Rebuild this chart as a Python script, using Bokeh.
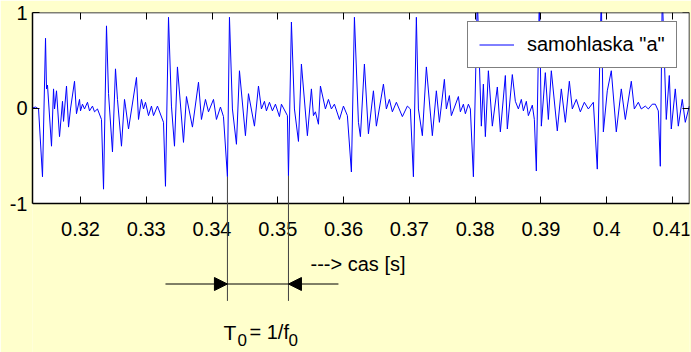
from bokeh.plotting import figure
from bokeh.models import (Range1d, LinearAxis, FixedTicker, Arrow, NormalHead,
                          Label, Legend, LegendItem, BoxAnnotation)
from bokeh.embed import file_html
from bokeh.resources import INLINE

# ---------------- data ----------------
time_s = [
    0.31270, 0.31316, 0.31362, 0.31422, 0.31468, 0.31483, 0.31498, 0.31559, 0.31590, 0.31605,
    0.31635, 0.31681, 0.31726, 0.31742, 0.31787, 0.31818, 0.31848, 0.31909, 0.31939, 0.31985,
    0.32000, 0.32030, 0.32061, 0.32106, 0.32137, 0.32182, 0.32213, 0.32258, 0.32319, 0.32350,
    0.32395, 0.32426, 0.32486, 0.32532, 0.32562, 0.32623, 0.32669, 0.32684, 0.32730, 0.32851,
    0.32882, 0.32927, 0.32958, 0.32988, 0.33034, 0.33079, 0.33110, 0.33170, 0.33262, 0.33292,
    0.33338, 0.33383, 0.33429, 0.33474, 0.33566, 0.33611, 0.33702, 0.33794, 0.33839, 0.33900,
    0.33946, 0.34022, 0.34067, 0.34128, 0.34174, 0.34234, 0.34265, 0.34310, 0.34371, 0.34417,
    0.34508, 0.34554, 0.34645, 0.34706, 0.34751, 0.34797, 0.34827, 0.34873, 0.34918, 0.34964,
    0.35025, 0.35055, 0.35146, 0.35162, 0.35207, 0.35253, 0.35314, 0.35359, 0.35450, 0.35511,
    0.35542, 0.35572, 0.35618, 0.35648, 0.35724, 0.35770, 0.35815, 0.35861, 0.35937, 0.35998,
    0.36058, 0.36119, 0.36165, 0.36226, 0.36256, 0.36317, 0.36378, 0.36454, 0.36499, 0.36606,
    0.36651, 0.36697, 0.36742, 0.36803, 0.36894, 0.36970, 0.37016, 0.37062, 0.37107, 0.37138,
    0.37198, 0.37259, 0.37350, 0.37411, 0.37457, 0.37533, 0.37563, 0.37609, 0.37639, 0.37746,
    0.37776, 0.37822, 0.37852, 0.37898, 0.37928, 0.37974, 0.38034, 0.38095, 0.38126, 0.38156,
    0.38202, 0.38262, 0.38338, 0.38384, 0.38460, 0.38490, 0.38566, 0.38612, 0.38658, 0.38703,
    0.38734, 0.38779, 0.38810, 0.38870, 0.38901, 0.38931, 0.38977, 0.39007, 0.39068, 0.39114,
    0.39159, 0.39250, 0.39311, 0.39372, 0.39433, 0.39478, 0.39539, 0.39600, 0.39661, 0.39722,
    0.39798, 0.39858, 0.39919, 0.39950, 0.40010, 0.40071, 0.40147, 0.40223, 0.40284, 0.40375,
    0.40421, 0.40482, 0.40527, 0.40588, 0.40634, 0.40694, 0.40740, 0.40786, 0.40816, 0.40846,
    0.40907, 0.40953, 0.40983, 0.41044, 0.41090, 0.41150, 0.41196, 0.41257,
]
amplitude = [
    0.00, 0.01, -0.01, -0.72, 0.73, 0.20, 0.24, -0.40, 0.20, -0.01,
    0.18, -0.30, 0.07, -0.14, 0.23, -0.20, -0.01, 0.28, -0.06, 0.09,
    -0.03, 0.04, -0.01, 0.06, -0.03, 0.02, -0.04, -0.01, -0.12, -0.85,
    0.86, 0.15, -0.46, 0.41, 0.09, -0.40, 0.09, 0.02, -0.22, 0.32,
    -0.12, 0.09, -0.01, 0.06, -0.08, 0.02, -0.08, 0.02, -0.15, -0.82,
    0.95, 0.02, -0.40, 0.43, -0.36, 0.12, -0.20, 0.27, -0.12, 0.09,
    -0.04, 0.09, -0.12, 0.01, -0.09, -0.72, 0.95, -0.01, -0.38, 0.39,
    -0.29, 0.15, -0.19, 0.23, -0.01, 0.07, -0.03, 0.06, -0.03, 0.04,
    -0.09, 0.04, -0.08, -0.71, 0.90, -0.01, -0.35, 0.46, -0.29, 0.20,
    -0.08, -0.04, -0.17, 0.23, -0.01, 0.09, -0.01, 0.04, -0.12, 0.02,
    -0.08, -0.67, 0.95, -0.15, -0.30, 0.46, -0.27, 0.18, -0.19, 0.25,
    -0.01, 0.09, -0.04, 0.06, -0.09, 0.02, -0.01, -0.72, 0.95, -0.01,
    -0.29, 0.43, -0.29, 0.18, -0.15, 0.30, -0.01, 0.13, -0.08, 0.12,
    -0.04, 0.04, -0.06, 0.04, -0.01, -0.72, 1.15, -0.19, 0.25, -0.30,
    0.39, -0.19, 0.22, -0.25, 0.34, -0.22, 0.35, 0.07, -0.01, 0.09,
    -0.03, 0.07, -0.08, 0.03, -0.12, -0.66, 1.17, -0.19, 0.37, -0.12,
    0.39, -0.24, 0.20, -0.15, 0.28, -0.01, 0.09, -0.04, 0.06, -0.01,
    0.06, -0.64, 1.17, -0.25, 0.18, 0.39, -0.25, 0.20, -0.12, 0.28,
    -0.01, 0.06, -0.01, 0.02, -0.01, 0.04, 0.04, -0.03, -0.61, 1.20,
    -0.12, 0.34, -0.22, 0.20, -0.19, 0.09, -0.15, 0.02,
]
x_ticks = [0.32, 0.33, 0.34, 0.35, 0.36, 0.37, 0.38, 0.39, 0.40, 0.41]
x_tick_labels = ["0.32", "0.33", "0.34", "0.35", "0.36", "0.37", "0.38", "0.39", "0.4", "0.41"]
y_ticks = [-1, 0, 1]
y_tick_labels = ["-1", "0", "1"]
series_name = 'samohlaska "a"'
axis_text = "---> cas [s]"

# one pitch period, between two glottal (negative) peaks
period_start, period_end = 0.34234, 0.35162
peak_start, peak_end = -0.72, -0.71

# ---------------- styling ----------------
FONT = "Liberation Sans"
BG = "#FFFFCC"
BLUE = "#0000FF"
X0, X1 = 0.3127, 0.4126
Y_TOP, Y_BOTTOM = 1.0, -2.5602   # the frame also holds the annotation area below the chart

p = figure(width=691, height=352, output_backend="svg", toolbar_location=None,
           x_range=Range1d(X0, X1), y_range=Range1d(Y_BOTTOM, Y_TOP),
           x_axis_location=None, y_axis_location=None,
           min_border_left=32, min_border_right=2, min_border_top=12, min_border_bottom=0,
           background_fill_color=BG, border_fill_color=BG)
p.grid.visible = False
p.outline_line_color = None

# white plot panel
p.add_layout(BoxAnnotation(bottom=-1, top=1, fill_color="white", fill_alpha=1,
                           line_color=None, level="underlay"))


def axis(ticks, labels, standoff, **kw):
    ax = LinearAxis(ticker=FixedTicker(ticks=ticks), major_tick_in=7, major_tick_out=0,
                    minor_tick_line_color=None, axis_line_color="black", axis_line_width=1.5,
                    major_tick_line_color="black", major_tick_line_width=1,
                    major_label_text_font=FONT, major_label_text_color="black",
                    major_label_standoff=standoff, major_label_text_font_size="20px",
                    major_label_overrides=dict(zip(ticks, labels)), **kw)
    return ax


blank_x = [""] * len(x_ticks)
blank_y = [""] * len(y_ticks)
p.add_layout(axis(x_ticks, x_tick_labels, 18, fixed_location=-1), "below")
p.add_layout(axis(x_ticks, blank_x, 0, fixed_location=1), "above")
p.add_layout(axis(y_ticks, y_tick_labels, 5, bounds=(-1, 1)), "left")
p.add_layout(axis(y_ticks, blank_y, 0, bounds=(-1, 1), fixed_location=X1), "right")

r = p.line(time_s, amplitude, line_color=BLUE, line_width=1)

legend = Legend(items=[LegendItem(label=series_name, renderers=[r])],
                location=(435, 284), border_line_color="black", border_line_width=1,
                background_fill_color="white", background_fill_alpha=1,
                label_text_font=FONT, label_text_font_size="20px", label_text_color="black",
                padding=11, spacing=0, glyph_width=35, glyph_height=21, label_height=21,
                label_standoff=13, margin=0)
p.add_layout(legend, "center")

# period annotation below the chart
arrow_y = -1.843
line_bottom = -2.02
p.add_layout(Arrow(end=None, x_start=period_start, y_start=peak_start,
                   x_end=period_start, y_end=line_bottom, line_color="#404040", line_width=1))
p.add_layout(Arrow(end=None, x_start=period_end, y_start=peak_end,
                   x_end=period_end, y_end=line_bottom, line_color="#404040", line_width=1))
p.add_layout(Arrow(end=NormalHead(size=13, fill_color="black", line_color="black"),
                   x_start=0.33292, y_start=arrow_y, x_end=period_start, y_end=arrow_y,
                   line_color="black", line_width=1))
p.add_layout(Arrow(end=None, x_start=period_start, y_start=arrow_y,
                   x_end=period_end, y_end=arrow_y, line_color="black", line_width=1))
p.add_layout(Arrow(end=NormalHead(size=13, fill_color="black", line_color="black"),
                   x_start=0.35922, y_start=arrow_y, x_end=period_end, y_end=arrow_y,
                   line_color="black", line_width=1))

p.add_layout(Label(x=0.35497, y=-1.634, text=axis_text, text_font=FONT, text_font_size="20px",
                   text_align="left", text_baseline="middle", text_color="black"))

# "T0 = 1/f0" with subscripts
main_y, sub_y = -2.346, -2.430
for x, y, txt, size in [(0.341739, main_y, "T", "21px"),
                        (0.343868, sub_y, "0", "17px"),
                        (0.345692, main_y, "= 1/f", "20px"),
                        (0.351621, sub_y, "0", "17px")]:
    p.add_layout(Label(x=x, y=y, text=txt, text_font=FONT, text_font_size=size,
                       text_align="left", text_baseline="alphabetic", text_color="black"))

html = file_html(p, INLINE, title="samohlaska a")
html = html.replace("<body>", '<body style="background-color:%s;">' % BG, 1)
open("out.html", "w").write(html)
